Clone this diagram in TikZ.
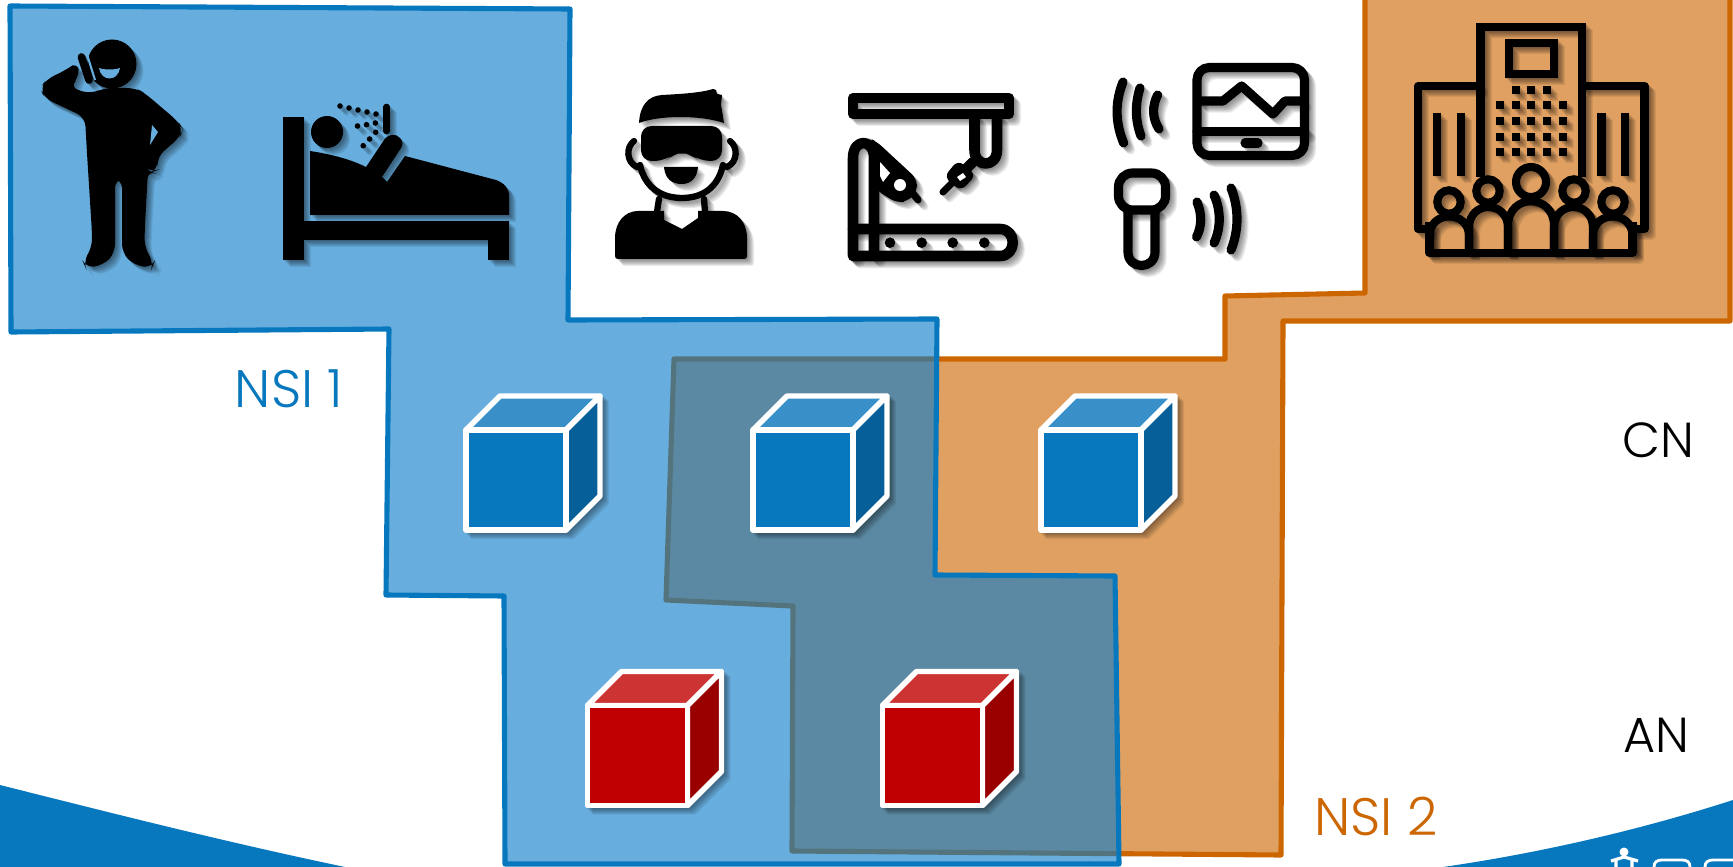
\documentclass[tikz,border=0pt]{standalone}
\usepackage{fontspec}
\setmainfont{Poppins}[UprightFont=* Light]
\usetikzlibrary{positioning}
\definecolor{cBlue}{RGB}{8,120,190}
\definecolor{cBlueFill}{RGB}{10,124,203}
\definecolor{cBlueTop}{RGB}{57,143,199}
\definecolor{cBlueSide}{RGB}{6,95,152}
\definecolor{cBluePale}{RGB}{103,174,223}
\definecolor{cOrange}{RGB}{204,102,0}
\definecolor{cRed}{RGB}{192,0,0}
\definecolor{cRedTop}{RGB}{204,51,51}
\definecolor{cRedSide}{RGB}{153,0,0}
\tikzset{
	nsiblue/.style  ={draw=cBlue, line width=1.45pt, line join=round, fill=cBlueFill, fill opacity=.62},
	nsiorange/.style={draw=cOrange, line width=1.45pt, line join=round, fill=cOrange, fill opacity=.62},
	nsilabel/.style ={inner sep=0pt, font=\fontsize{15}{17}\selectfont},
	netlabel/.style ={inner sep=0pt, font=\fontsize{14}{16}\selectfont, text=black},
	cubeedge/.style ={draw=white, line width=1.55pt, line join=round},
	% icon strokes
	ico/.style      ={draw=black, line width=2.6pt, line cap=round, line join=round},
	icothin/.style  ={draw=black, line width=1.8pt, line cap=round, line join=round},
	icofat/.style   ={draw=black, line width=3pt, line cap=round, line join=round},
	icobld/.style   ={draw=black, line width=2.3pt, line join=miter},
}
\newcommand{\iconlayers}[2]{%
	\foreach \d in {1,...,7}{\begin{scope}[shift={(\d,\d)},opacity=.08]#1\end{scope}}
	#1
	#2
}
\begin{document}
\begin{tikzpicture}[x=0.01cm,y=-0.01cm]
	\useasboundingbox (0,0) rectangle (1733,867);
	% corner band with logo
	\fill[cBlue] (0,785) .. controls (115,814) and (230,843) .. (345,867) -- (0,867) -- cycle;
	\fill[cBlue] (1443,867) .. controls (1540,853) and (1640,830) .. (1733,800) -- (1733,867) -- cycle;
	\fill[white] (1624,852) circle[radius=4.5];
	\draw[white, line width=.9pt] (1611,861) -- (1624,857) -- (1638,861) (1616,867) -- (1616,860) (1632,867) -- (1632,860);
	\draw[white, line width=.8pt] (1654,867) .. controls (1654,862) and (1657,860) .. (1662,860) -- (1682,860) .. controls (1687,860) and (1690,862) .. (1690,867);
	\draw[white, line width=.8pt] (1705,867) .. controls (1705,862) and (1708,860) .. (1713,860) -- (1733,860);
	% slices
	\path[nsiorange] (1365,-5) -- (1365,293) -- (1225,296) -- (1225,359) -- (674,359) -- (666,600) -- (793,606) -- (792,851) -- (1281,855) -- (1283,321) -- (1730,321) -- (1730,-5) -- cycle;
	\path[nsiblue] (10,6) -- (570,9) -- (568,320) -- (937,319) -- (935,575) -- (1115,576) -- (1119,864) -- (505,864) -- (504,596) -- (386,595) -- (389,329) -- (11,332) -- cycle;
	% cubes
	\foreach \cx/\cy/\cfront/\ctop/\cside in {466/430/cBlue/cBlueTop/cBlueSide, 753/430/cBlue/cBlueTop/cBlueSide, 1041/430/cBlue/cBlueTop/cBlueSide, 587.5/705.5/cRed/cRedTop/cRedSide, 882.5/705.5/cRed/cRedTop/cRedSide}{
		\begin{scope}[shift={(\cx,\cy)}]
			\foreach \d in {1,...,7}
				\fill[black, opacity=.07] (\d-2,\d-2) -- (\d+34,\d-36) -- (\d+136,\d-36) -- (\d+136,\d+67) -- (\d+101,\d+102) -- (\d-2,\d+102) -- cycle;
			\path[cubeedge, fill=\ctop] (0,0) -- (34,-34) -- (134,-34) -- (100,0) -- cycle;
			\path[cubeedge, fill=\cside] (100,0) -- (134,-34) -- (134,66) -- (100,100) -- cycle;
			\path[cubeedge, fill=\cfront] (0,0) rectangle (100,100);
		\end{scope}
	}
	% phone user
	\iconlayers{
		\fill[rounded corners=2.5pt] (69.6,87.3) -- (79.3,77.3) -- (78,61.7) -- (66,70) -- (46.4,79.3) -- (40,88.3) -- (44.6,98.3) -- (85,117.3) -- (86.8,150) -- (92,233) -- (92,248) -- (83,261.7) -- (85.7,268) -- (103.6,265) -- (115,253) -- (115,179) -- (122,179) -- (122,253) -- (134,265) -- (152,268) -- (154,263) -- (144.6,248) -- (144.6,233) -- (148,170) -- (152,172) -- (158,170) -- (157,157) -- (180,137) -- (183,130) -- (178.6,122) -- (144.6,93) -- (135.7,88) -- (103.6,88) -- (91,94) -- cycle;
		\fill (112,64) circle[radius=24.5];
		\draw[black, line width=2.2pt, line cap=round] (81.5,57) -- (89,80);
	}{
		\draw[cBluePale, line width=.6pt] (87.5,56) -- (95,80);
		\fill[cBluePale] (99,68) .. controls (104,70) and (115,70) .. (120,68) .. controls (118,82) and (101,82) .. (99,68) -- cycle;
		\fill[cBluePale] (152,125) -- (158,132) -- (150,145) -- cycle;
	}
	% patient in bed
	\iconlayers{
		\fill (283,117) rectangle (304,260);
		\fill (304,221) rectangle (509,240);
		\fill (488,240) rectangle (509,260);
		\fill (310,151) .. controls (330,154) and (350,159) .. (366,167) -- (384,140) .. controls (388,134) and (396,133) .. (400,138) .. controls (403,141) and (403,145) .. (401,148) -- (382,177) -- (387,182) -- (405,156) -- (496,180) .. controls (504,183) and (509,188) .. (509,196) -- (509,215) -- (310,215) -- cycle;
		\fill (327,132) circle[radius=16];
		\draw[black, line width=1.9pt, line cap=round] (386.5,107) -- (386.5,131);
		\foreach \px/\py in {340/106,349/108,358/110,367/112,376/114,357.5/126,366.5/124.7,375.4/123,375.7/132.3,369.6/139,363.2/145.7}
			\fill (\px,\py) circle[radius=2.8];
	}{}
	% headset user
	\iconlayers{
		\fill (639,123) .. controls (640,105) and (648,96) .. (662,95) .. controls (680,94) and (700,93) .. (713,89) -- (716,90) -- (717,94) -- (722,95) -- (721,105) -- (722,110) -- (724,123) .. controls (700,115) and (660,115) .. (639,123) -- cycle;
		\fill[rounded corners=3pt] (641,126) -- (722,126) -- (722,161) -- (700,161) -- (690,154) -- (682,152) -- (674,154) -- (665,161) -- (641,161) -- cycle;
		\draw[icothin] (634,141) .. controls (626,147) and (626,162) .. (637,167);
		\draw[icothin] (730,141) .. controls (738,147) and (738,162) .. (727,167);
		\draw[icothin] (640,165) .. controls (645,188) and (662,198) .. (682,198) .. controls (702,198) and (718,188) .. (723,165);
		\fill (664,167) -- (698,167) .. controls (697,179) and (690,184) .. (682,184) .. controls (672,184) and (665,179) .. (664,167) -- cycle;
		\draw[icothin] (659,199) -- (657,212) (704,199) -- (705,212);
		\fill (615,256) .. controls (615,258) and (616,259) .. (618,259) -- (744,259) .. controls (746,259) and (747,258) .. (747,256) -- (747,238) .. controls (747,222) and (737,211) .. (723,211) -- (698,211) -- (698,218) -- (682,229) -- (664,220) -- (664,211) -- (638,211) .. controls (625,211) and (615,222) .. (615,238) -- cycle;
	}{}
	% robot cell
	\iconlayers{
		\draw[icofat] (853,98) rectangle (1009,114);
		\draw[icofat] (974.5,119) -- (974.5,150) .. controls (974.5,168) and (997,168) .. (997,150) -- (997,119);
		\draw[icofat] (973,162) -- (958,177);
		\fill[rounded corners=2pt] (958,160) -- (976,175) -- (961,191) -- (944,177) -- cycle;
		\draw[black, line width=2pt, line cap=round] (952,183) -- (943,192);
		\draw[icofat] (853,255) -- (853,158) .. controls (853,138) and (874,138) .. (874,158) -- (874,255);
		\fill[rounded corners=2pt] (868,138) -- (876,141) -- (917,179) -- (917,192) -- (908,201) -- (897,203) -- (876,190) -- cycle;
		\draw[black, line width=2pt, line cap=round] (910,190) -- (918,200);
		\draw[icofat] (853,229) -- (1000,229) .. controls (1017,229) and (1017,256) .. (1000,256) -- (853,256);
		\foreach \px in {890,921.7,952.7,984.3}
			\fill (\px,242.7) circle[radius=5.3];
	}{
		\fill[white] (880,162) -- (890,173) -- (883,182) -- (880,176) -- cycle;
		\fill[white] (900,185) circle[radius=6];
		\fill[white] (957,177) -- (963,173) -- (966,177) -- (960,181) -- cycle;
	}
	% sensors and tablet
	\iconlayers{
		\draw[ico, rounded corners=3.5pt] (1197,67.5) rectangle (1304.5,155.5);
		\draw[ico] (1197,131.7) -- (1304.5,131.7);
		\draw[ico] (1202,101) -- (1223,101) -- (1241.6,86) -- (1273,114) -- (1285,101) -- (1300,101);
		\draw[ico] (1245,143) -- (1258,143);
		\draw[ico] (1123,82) .. controls (1115,102) and (1115,122) .. (1123.6,143);
		\draw[ico] (1140,88) .. controls (1135,104) and (1135,120) .. (1141,136);
		\draw[ico] (1157.6,95) .. controls (1152,106) and (1152,118) .. (1159,129);
		\draw[ico, rounded corners=4pt] (1118.5,173) rectangle (1165.5,210);
		\draw[ico] (1128,211) -- (1128,252) .. controls (1128,270) and (1155,270) .. (1155,252) -- (1155,211);
		\draw[ico] (1197,202) .. controls (1202,214) and (1202,226) .. (1196.5,237);
		\draw[ico] (1214,195) .. controls (1221,210) and (1221,228) .. (1214,243);
		\draw[ico] (1231,188) .. controls (1239,208) and (1239,230) .. (1231,250);
	}{}
	% campus building
	\iconlayers{
		\draw[icobld] (1480.5,177) -- (1480.5,27) -- (1582,27) -- (1582,177);
		\draw[icobld, line join=round] (1480.5,86) -- (1418,86) -- (1418,229) -- (1430,229);
		\draw[icobld, line join=round] (1582,86) -- (1644.5,86) -- (1644.5,229) -- (1632,229);
		\draw[icobld] (1509,43) rectangle (1554,74);
		\foreach \gx in {1500,1515.7,1531,1547,1562.5}
			\foreach \gy in {105.3,121,136.7,152.3}
				\fill (\gx-4,\gy-4) rectangle ++(8,8);
		\foreach \gx in {1515.7,1531,1547}
			\fill (\gx-4,85.7) rectangle ++(8,8);
		\draw[icobld] (1437,113) -- (1437,176) (1461,113) -- (1461,176) (1601.5,113) -- (1601.5,176) (1625,113) -- (1625,176);
		\draw[icobld, line join=round] (1429.5,222) -- (1429.5,253) -- (1632.5,253) -- (1632.5,222);
		\foreach \hx/\hy/\hr in {1531/182/15, 1488/191/11.7, 1574/191/11.7, 1449/202/11.7, 1613/202/11.7}
			\draw[icobld] (\hx,\hy) circle[radius=\hr];
		\draw[icobld] (1429.5,253) -- (1429.5,236) .. controls (1429.5,210) and (1469,210) .. (1469,236) -- (1469,253);
		\draw[icobld] (1469,253) -- (1469,228) .. controls (1469,200) and (1508,200) .. (1508,228) -- (1508,253);
		\draw[icobld] (1508,253) -- (1508,226) .. controls (1508,193) and (1554,193) .. (1554,226) -- (1554,253);
		\draw[icobld] (1554,253) -- (1554,228) .. controls (1554,200) and (1593,200) .. (1593,228) -- (1593,253);
		\draw[icobld] (1593,253) -- (1593,236) .. controls (1593,210) and (1632.5,210) .. (1632.5,236) -- (1632.5,253);
	}{}
	% labels
	\node[nsilabel, text=cBlue] (nsione) at (289,389) {NSI 1};
	\node[nsilabel, text=cOrange] (nsitwo) at (1376,816) {NSI 2};
	\node[netlabel] (cn) at (1658,440) {CN};
	\node[netlabel] (an) at (1656,735) {AN};
\end{tikzpicture}
\end{document}
